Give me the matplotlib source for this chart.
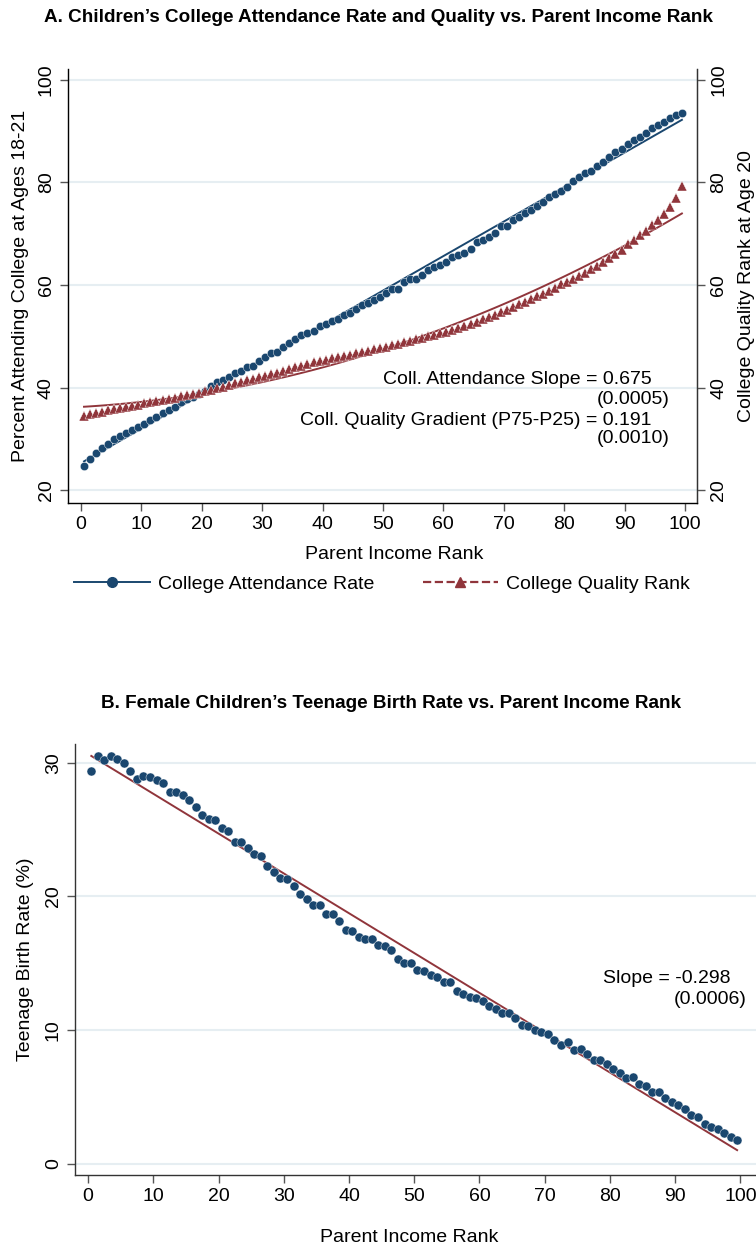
import numpy as np
import matplotlib
matplotlib.use("Agg")
import matplotlib.pyplot as plt
from matplotlib.lines import Line2D

plt.rcParams['font.family'] = ['Liberation Sans', 'DejaVu Sans']

# parent income rank (percentile midpoints)
rank = np.arange(100) + 0.5

# Panel A: college attendance rate (%) by parent rank
attend = [24.7, 26.1, 27.2, 28.3, 29.0, 29.9, 30.5, 31.2, 31.8, 32.4,
          32.9, 33.7, 34.3, 35.0, 35.6, 36.3, 37.2, 37.7, 38.2, 38.7,
          39.4, 40.3, 41.1, 41.5, 42.0, 42.8, 43.2, 44.1, 44.3, 45.1,
          45.9, 46.7, 47.0, 47.9, 48.6, 49.4, 50.2, 50.7, 51.0, 52.0,
          52.3, 53.0, 53.4, 54.1, 54.5, 55.3, 56.1, 56.4, 57.1, 57.7,
          58.5, 59.3, 59.3, 60.6, 61.1, 61.1, 61.9, 62.9, 63.6, 63.8,
          64.5, 65.4, 65.9, 66.3, 67.1, 68.4, 68.8, 69.4, 70.2, 71.4,
          71.5, 72.6, 73.2, 74.0, 74.6, 75.4, 76.2, 77.1, 77.8, 78.4,
          79.1, 80.2, 81.0, 81.9, 82.2, 83.2, 84.0, 84.9, 86.0, 86.5,
          87.5, 88.3, 88.9, 89.7, 90.6, 91.2, 91.7, 92.6, 93.1, 93.6]

# Panel A: college quality rank at age 20
quality = [34.4, 34.8, 35.1, 35.3, 35.6, 35.8, 36.0, 36.2, 36.4, 36.6,
           36.9, 37.1, 37.3, 37.5, 37.8, 38.0, 38.3, 38.5, 38.8, 39.0,
           39.3, 39.6, 39.9, 40.2, 40.5, 40.8, 41.1, 41.4, 41.7, 42.0,
           42.3, 42.6, 42.9, 43.3, 43.7, 44.0, 44.3, 44.6, 44.9, 45.1,
           45.4, 45.7, 46.0, 46.2, 46.4, 46.7, 47.0, 47.2, 47.5, 47.8,
           48.0, 48.3, 48.5, 48.8, 49.1, 49.4, 49.7, 50.0, 50.3, 50.6,
           50.9, 51.3, 51.7, 52.0, 52.4, 52.8, 53.3, 53.8, 54.2, 54.7,
           55.2, 55.7, 56.2, 56.7, 57.2, 57.8, 58.3, 58.9, 59.5, 60.1,
           60.6, 61.2, 61.8, 62.4, 63.1, 63.7, 64.4, 65.2, 66.1, 66.9,
           67.9, 68.8, 69.7, 70.6, 71.6, 72.7, 73.8, 75.2, 77.0, 79.3]

# Panel B: teenage birth rate (%) of female children
teen = [29.4, 30.5, 30.2, 30.5, 30.3, 30.0, 29.4, 28.8, 29.0, 28.9,
        28.7, 28.5, 27.8, 27.8, 27.6, 27.2, 26.7, 26.1, 25.8, 25.7,
        25.1, 24.9, 24.1, 24.1, 23.6, 23.2, 23.0, 22.3, 21.8, 21.4,
        21.3, 20.8, 20.2, 19.8, 19.4, 19.4, 18.7, 18.7, 18.2, 17.5,
        17.4, 17.0, 16.8, 16.8, 16.4, 16.3, 16.0, 15.3, 15.0, 15.0,
        14.5, 14.4, 14.1, 14.0, 13.6, 13.6, 12.9, 12.7, 12.5, 12.4,
        12.2, 11.8, 11.6, 11.3, 11.3, 10.9, 10.4, 10.3, 10.0, 9.9,
        9.7, 9.3, 8.9, 9.1, 8.5, 8.6, 8.2, 7.8, 7.8, 7.5,
        7.1, 6.8, 6.4, 6.5, 6.0, 5.8, 5.4, 5.4, 4.9, 4.6,
        4.4, 4.1, 3.7, 3.5, 3.0, 2.8, 2.6, 2.3, 2.0, 1.8]

navy = '#1a476f'
maroon = '#90353b'
grid_c = '#e6eef2'
FS = 14

fig = plt.figure(figsize=(7.56, 12.45), dpi=100)


def style_axis(ax):
    ax.yaxis.grid(True, color=grid_c, lw=1.5)
    ax.set_axisbelow(True)
    ax.spines['top'].set_visible(False)
    for s in ['left', 'bottom', 'right']:
        ax.spines[s].set_color('#333333')
        ax.spines[s].set_linewidth(1.0)
    ax.tick_params(direction='out', length=6, width=1, color='#555555', labelsize=FS)
    for lab in ax.get_yticklabels():
        lab.set_rotation(90)
        lab.set_va('center')


# ---------------- Panel A ----------------
ax1 = fig.add_axes([68 / 756, 1 - 503 / 1245, 629 / 756, 434 / 1245])
fa = np.polyfit(rank, attend, 1)
fq = np.polyfit(rank, quality, 2)
ax1.plot(rank, np.polyval(fa, rank), color=navy, lw=1.4, zorder=2)
ax1.plot(rank, np.polyval(fq, rank), color=maroon, lw=1.4, zorder=2)
ax1.plot(rank, attend, 'o', color=navy, ms=6.0, mec='white', mew=0.3, zorder=3)
ax1.plot(rank, quality, '^', color=maroon, ms=6.6, mec='white', mew=0.3, zorder=3)
ax1.set_xlim(-2.15, 102)
ax1.set_ylim(17.5, 102.1)
ax1.set_xticks(range(0, 101, 10))
ax1.set_yticks(range(20, 101, 20))
style_axis(ax1)
ax1.set_xlabel('Parent Income Rank', fontsize=FS)
ax1.xaxis.set_label_coords(0.518, -0.1)
ax1.set_ylabel('Percent Attending College at Ages 18-21', fontsize=FS, labelpad=6)

ax1r = ax1.twinx()
ax1r.set_ylim(ax1.get_ylim())
ax1r.set_yticks(range(20, 101, 20))
ax1r.spines['top'].set_visible(False)
ax1r.spines['right'].set_color('#333333')
ax1r.tick_params(direction='out', length=6, width=1, color='#555555', labelsize=FS)
for lab in ax1r.get_yticklabels():
    lab.set_rotation(90)
    lab.set_va('center')
ax1r.set_ylabel('College Quality Rank at Age 20', fontsize=FS, labelpad=8)

ax1.text(94.5, 41.5, 'Coll. Attendance Slope = 0.675', ha='right', va='center', fontsize=FS)
ax1.text(97.5, 37.6, '(0.0005)', ha='right', va='center', fontsize=FS)
ax1.text(94.5, 33.5, 'Coll. Quality Gradient (P75-P25) = 0.191', ha='right', va='center', fontsize=FS)
ax1.text(97.5, 30.1, '(0.0010)', ha='right', va='center', fontsize=FS)

handles = [Line2D([], [], color=navy, lw=1.4, marker='o', ms=7),
           Line2D([], [], color=maroon, lw=1.6, ls='--', marker='^', ms=7)]
fig.legend(handles, ['College Attendance Rate', 'College Quality Rank'],
           loc='center', bbox_to_anchor=(382 / 756, 1 - 584 / 1245), ncol=2,
           frameon=False, fontsize=FS, handlelength=3.9, columnspacing=2.5,
           handletextpad=0.4)

fig.text(378 / 756, 1 - 17 / 1245,
         "A. Children\u2019s College Attendance Rate and Quality vs. Parent Income Rank",
         ha='center', va='center', fontsize=13.6, fontweight='bold')

# ---------------- Panel B ----------------
ax2 = fig.add_axes([75 / 756, 1 - 1175 / 1245, 683 / 756, 431 / 1245])
fb = np.polyfit(rank, teen, 1)
ax2.plot(rank, np.polyval(fb, rank), color=maroon, lw=1.4, zorder=2)
ax2.plot(rank, teen, 'o', color=navy, ms=6.5, mec='white', mew=0.3, zorder=3)
ax2.set_xlim(-2.0, 102.7)
ax2.set_ylim(-0.82, 31.4)
ax2.set_xticks(range(0, 101, 10))
ax2.set_yticks(range(0, 31, 10))
style_axis(ax2)
ax2.spines['right'].set_visible(False)
ax2.set_xlabel('Parent Income Rank', fontsize=FS)
ax2.xaxis.set_label_coords(0.49, -0.125)
ax2.set_ylabel('Teenage Birth Rate (%)', fontsize=FS, labelpad=8)
ax2.text(98.5, 13.9, 'Slope = -0.298', ha='right', va='center', fontsize=FS)
ax2.text(100.9, 12.3, '(0.0006)', ha='right', va='center', fontsize=FS)

fig.text(391 / 756, 1 - 704 / 1245,
         "B. Female Children\u2019s Teenage Birth Rate vs. Parent Income Rank",
         ha='center', va='center', fontsize=13.6, fontweight='bold')

fig.savefig('out.png', dpi=100)
